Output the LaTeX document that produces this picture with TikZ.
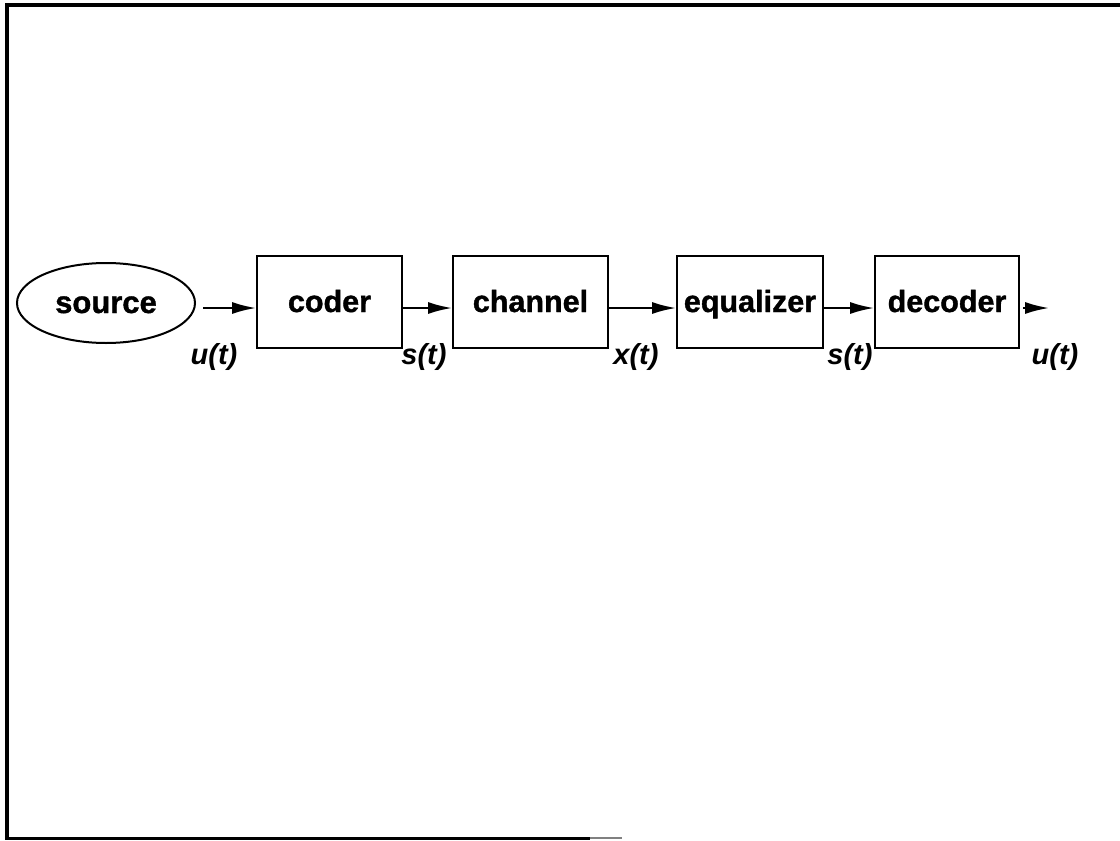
\documentclass[tikz,border=0pt]{standalone}
\usepackage{fontspec}
\setmainfont{Liberation Sans}[BoldFeatures={FakeBold=1.2}]
\usetikzlibrary{shapes.geometric,arrows.meta}
\tikzset{
  blk/.style={draw=black, line width=2pt, rectangle, minimum height=92pt, inner sep=0pt,
    text height=20pt, text depth=0pt,
    font=\fontsize{30.5}{34}\selectfont\bfseries},
  src/.style={draw=black, line width=2pt, ellipse, minimum width=178pt, minimum height=80pt, inner sep=0pt,
    text height=20pt, text depth=0pt,
    font=\fontsize{31}{34}\selectfont\bfseries},
  sig/.style={font=\fontsize{29}{33}\selectfont\bfseries\itshape, inner sep=0pt},
  flow/.style={line width=2pt, -{Latex[length=24pt,width=12pt]}},
  frame/.style={line width=3.5pt, line cap=rect}
}
\begin{document}
\begin{tikzpicture}[x=1pt,y=-1pt]
\useasboundingbox (0,0) rectangle (1120,841);
% frame
\draw[frame] (7,838) -- (7,5) -- (1120,5);
\draw[line width=3pt] (7,838) -- (590,838);
\draw[line width=2pt,gray] (590,838) -- (622,838);
% blocks
\node[src] (source) at (106,303) {source};
\node[blk, minimum width=145pt] (coder) at (329.5,302) {coder};
\node[blk, minimum width=155pt] (channel) at (530.5,302) {channel};
\node[blk, minimum width=146pt] (equalizer) at (750,302) {equalizer};
\node[blk, minimum width=144pt] (decoder) at (947,302) {decoder};
\coordinate (out) at (1049,308);
% connectors
\draw[flow, shorten <=7pt] ([yshift=-5pt]source.east) -- ([yshift=-6pt]coder.west);
\draw[flow] ([yshift=-6pt]coder.east) -- ([yshift=-6pt]channel.west);
\draw[flow] ([yshift=-6pt]channel.east) -- ([yshift=-6pt]equalizer.west);
\draw[flow] ([yshift=-6pt]equalizer.east) -- ([yshift=-6pt]decoder.west);
\draw[flow, shorten <=3pt] ([yshift=-6pt]decoder.east) -- (out);
% signal labels
\node[sig] (u1) at (214,357) {u(t)};
\node[sig] (s1) at (424,357) {s(t)};
\node[sig] (x1) at (636,357) {x(t)};
\node[sig] (s2) at (850,357) {s(t)};
\node[sig] (u2) at (1055,357) {u(t)};
\end{tikzpicture}
\end{document}
